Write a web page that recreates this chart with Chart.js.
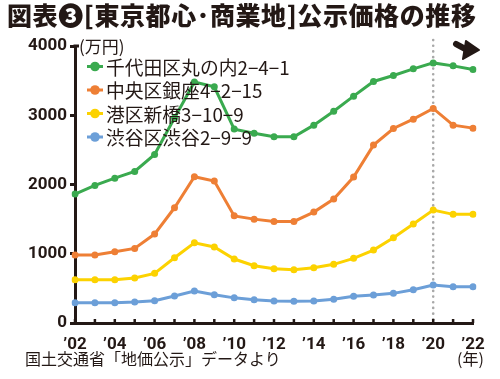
<!DOCTYPE html>
<html lang="ja">
<head>
<meta charset="utf-8">
<script src="https://cdn.jsdelivr.net/npm/chart.js@4"></script>
<style>
  html, body { margin: 0; padding: 0; background: #ffffff; }
  #wrap { position: relative; width: 500px; height: 379px; overflow: hidden; }
  #c { position: absolute; left: 0; top: 0; }
  .txt { position: absolute; color: #231815; white-space: nowrap; font-family: "Noto Sans CJK JP", sans-serif; }
  #title { left: 7px; top: -4px; font-size: 25px; font-weight: 900; letter-spacing: 0.6px; }
  #unit { left: 79px; top: 33px; font-size: 17px; }
  #source { left: 25px; top: 346px; font-size: 16px; }
  #nen { left: 457px; top: 346px; font-size: 16px; }
</style>
</head>
<body>
<div id="wrap">
  <canvas id="c" width="500" height="379"></canvas>
  <div class="txt" id="title">図表❸[東京都心･商業地]公示価格の推移</div>
  <div class="txt" id="unit">(万円)</div>
  <div class="txt" id="source">国土交通省「地価公示」データより</div>
  <div class="txt" id="nen">(年)</div>
</div>
<script>
const years = ["2002","2003","2004","2005","2006","2007","2008","2009","2010","2011","2012","2013","2014","2015","2016","2017","2018","2019","2020","2021","2022"];
const seriesNames = ["千代田区丸の内2−4−1","中央区銀座4−2−15","港区新橋3−10−9","渋谷区渋谷2−9−9"];
const marunouchi = [1862,1987,2092,2189,2434,2960,3480,3410,2800,2740,2690,2690,2857,3059,3276,3488,3574,3670,3756,3713,3661];
const ginza      = [981,981,1029,1077,1284,1664,2112,2049,1547,1500,1467,1467,1602,1789,2107,2569,2809,2944,3098,2857,2814];
const shinbashi  = [625,625,625,649,717,943,1159,1097,924,827,784,769,798,847,934,1053,1231,1429,1631,1569,1569];
const shibuya    = [293,293,293,303,322,390,462,409,363,337,318,313,318,342,385,404,428,481,548,524,524];
const yTicks = [0,1000,2000,3000,4000];
const markedYear = "2020";

const colors = ["#3aaa4f","#ee7f35","#fcd200","#6c9fd8"];
const INK = "#231815";

const values = [marunouchi, ginza, shinbashi, shibuya];
const datasets = values.map((v, i) => ({
  label: seriesNames[i],
  data: v,
  borderColor: colors[i],
  backgroundColor: colors[i],
  borderWidth: 3,
  pointRadius: 3.5,
  pointHoverRadius: 3.5,
  pointBorderWidth: 0,
  tension: 0
}));

const decor = {
  id: 'decor',
  beforeDatasetsDraw(chart) {
    const {ctx, chartArea, scales: {x}} = chart;
    const px = x.getPixelForValue(years.indexOf(markedYear));
    ctx.save();
    ctx.strokeStyle = "#a9a9a9";
    ctx.lineWidth = 2.6;
    ctx.lineCap = "round";
    ctx.setLineDash([0.1, 5.6]);
    ctx.beginPath();
    ctx.moveTo(px, 40);
    ctx.lineTo(px, chartArea.bottom - 2);
    ctx.stroke();
    ctx.restore();
  },
  afterDraw(chart) {
    const {ctx, chartArea, scales: {x}} = chart;
    ctx.save();
    ctx.strokeStyle = INK;
    ctx.lineWidth = 2.5;
    years.forEach((yr, i) => {
      const px = x.getPixelForValue(i);
      ctx.beginPath();
      ctx.moveTo(px, chartArea.bottom);
      ctx.lineTo(px, chartArea.bottom - 4);
      ctx.stroke();
    });
    ctx.lineWidth = 3;
    ctx.beginPath();
    ctx.moveTo(chartArea.left - 1.5, chartArea.top);
    ctx.lineTo(chartArea.left + 4, chartArea.top);
    ctx.stroke();
    // legend
    const rows = [66.5, 90, 113.5, 137];
    ctx.textBaseline = "middle";
    ctx.font = '18.8px "Noto Sans CJK JP", sans-serif';
    chart.data.datasets.forEach((ds, i) => {
      const y = rows[i];
      ctx.strokeStyle = ds.borderColor;
      ctx.fillStyle = ds.borderColor;
      ctx.lineWidth = 3;
      ctx.beginPath();
      ctx.moveTo(87, y);
      ctx.lineTo(103, y);
      ctx.stroke();
      ctx.beginPath();
      ctx.arc(95, y, 4.8, 0, Math.PI * 2);
      ctx.fill();
      ctx.fillStyle = INK;
      ctx.fillText(ds.label, 106, y + 1);
    });
    // arrow top-right
    ctx.fillStyle = INK;
    ctx.strokeStyle = INK;
    ctx.lineWidth = 6;
    ctx.lineCap = "round";
    ctx.beginPath();
    ctx.moveTo(456, 44);
    ctx.lineTo(469, 51);
    ctx.stroke();
    ctx.lineJoin = "round";
    ctx.lineWidth = 2;
    ctx.beginPath();
    ctx.moveTo(466, 41);
    ctx.lineTo(479, 50);
    ctx.lineTo(463, 59);
    ctx.closePath();
    ctx.fill();
    ctx.stroke();
    ctx.restore();
  }
};

new Chart(document.getElementById('c'), {
  type: 'line',
  data: { labels: years, datasets },
  options: {
    responsive: false,
    animation: false,
    events: [],
    layout: { padding: { left: 0, right: 27, top: 46, bottom: 0 } },
    plugins: { legend: { display: false }, tooltip: { enabled: false }, title: { display: false } },
    scales: {
      x: {
        type: 'category',
        offset: false,
        grid: { display: false },
        border: { display: true, color: INK, width: 3 },
        ticks: {
          autoSkip: false,
          maxRotation: 0,
          padding: 4,
          color: INK,
          font: { family: 'Roboto', weight: 'bold', size: 17 },
          callback: (v, i) => (i % 2 === 0 ? "’" + years[i].slice(2) : "")
        },
        afterFit: s => { s.height = 379 - 323; }
      },
      y: {
        min: 0,
        max: 4000,
        afterBuildTicks: s => { s.ticks = yTicks.map(v => ({ value: v })); },
        grid: { display: true, drawOnChartArea: false, drawTicks: true, tickLength: 5, color: INK, lineWidth: 3 },
        border: { display: true, color: INK, width: 3 },
        ticks: {
          padding: 3,
          color: INK,
          font: { family: 'Roboto', weight: 'bold', size: 17 },
          callback: v => String(v)
        },
        afterFit: s => { s.width = 75; }
      }
    }
  },
  plugins: [decor]
});
</script>
</body>
</html>
